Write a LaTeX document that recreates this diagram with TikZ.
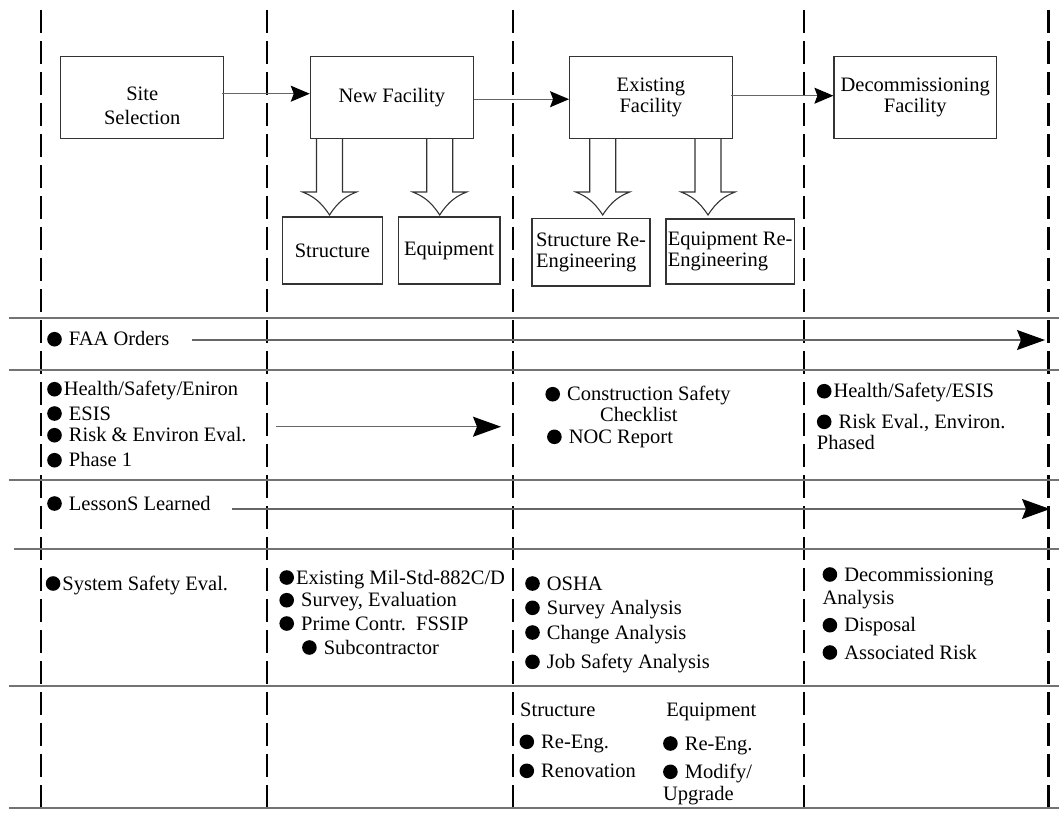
\documentclass[tikz,border=0pt]{standalone}
\usepackage{fontspec}
\setmainfont{Liberation Serif}
\usetikzlibrary{arrows.meta}

\newcommand{\bigtext}{\fontsize{20.5}{21}\selectfont}
% round list marker, sits on the baseline
\newcommand{\bul}{\tikz[baseline=0pt]\fill[black] (7.3pt,6.5pt) circle (7.3pt);\hspace{2pt}}
% hollow down arrow under a facility box, #1 = centre x
\newcommand{\hollowarrow}[1]{%
  \draw[black!80, line width=1.1pt] (#1-13,139) -- (#1-13,192) -- (#1-27,192)
    .. controls (#1-17,196) and (#1-9,201) .. (#1,215)
    .. controls (#1+9,201) and (#1+17,196) .. (#1+27,192)
    -- (#1+13,192) -- (#1+13,139);}

\tikzset{
  box/.style={draw=black!80, line width=1.1pt, inner sep=1pt, font=\bigtext},
  item/.style={anchor=base west, inner sep=0pt, text height=13pt, text depth=3pt, font=\bigtext},
  lane/.style={black, line width=2.2pt, dash pattern=on 23.3pt off 7.7pt},
  rowline/.style={black!55, line width=1.6pt},
  flow/.style={black!60, line width=1.2pt, -{Stealth[length=19pt, width=16pt, inset=3pt, color=black]}},
  longflow/.style={black!60, line width=1.2pt, -{Stealth[length=28pt, width=20pt, inset=4pt, color=black]}},
}

\begin{document}
\begin{tikzpicture}[x=1pt, y=-1pt]
    \useasboundingbox (0,0) rectangle (1059,815);

    % lanes and rows
    \foreach \x in {40.9, 266.7, 512.8, 804.2, 1048.5}
        \draw[lane] (\x,10) -- (\x,815);
    \foreach \x/\y in {9/318, 9/370, 9/480, 14/549, 9/686, 9/808}
        \draw[rowline] (\x,\y) -- (1059,\y);

    % facility boxes
    \node[box, minimum width=162.6, minimum height=82] (site) at (142.2,97.7) {};
    \node[inner sep=0pt, font=\bigtext, align=center] (sitetext) at ([yshift=-8pt]site.center) {Site\\[3pt]Selection};
    \node[box, minimum width=163, minimum height=82] (newfac) at (391.8,97.7) {New Facility\hspace{10pt}};
    \node[box, minimum width=162.6, minimum height=82, align=center] (exfac) at (650.9,97.7) {Existing\\Facility};
    \node[box, minimum width=162.5, minimum height=82, align=center] (decom) at (915.2,97.7) {Decommissioning\\Facility};

    \node[box, minimum width=100, minimum height=67] (struct) at (332.4,250.5) {Structure};
    \node[box, minimum width=101.8, minimum height=67] (equip) at (449.1,250.5) {Equipment};
    \node[box, minimum width=118, minimum height=67.3, align=left] (structre) at (591,252.3) {Structure Re-\\Engineering};
    \node[box, minimum width=128.4, minimum height=65, align=left] (equipre) at (730.2,251.5) {Equipment Re-\\Engineering};

    \draw[flow] ([xshift=-2pt, yshift=4pt]site.east) -- ([yshift=4pt]newfac.west);
    \draw[flow] ([yshift=-1.5pt]newfac.east) -- ([yshift=-1.5pt]exfac.west);
    \draw[flow] ([xshift=-2pt, yshift=2pt]exfac.east) -- ([yshift=2pt]decom.west);

    \hollowarrow{329.5}
    \hollowarrow{439.7}
    \hollowarrow{602.7}
    \hollowarrow{708}

    % FAA row
    \node[item] (faa) at (47,345.7) {\bul{} FAA Orders};
    \coordinate (faastart) at (191.7,340);
    \coordinate (faaend) at (1045,340);
    \draw[longflow] (faastart) -- (faaend);

    % health / safety row
    \node[item] (hse) at (47,395.7) {\bul{}Health/Safety/Eniron};
    \node[item] (esis) at (47,420) {\bul{} ESIS};
    \node[item] (riskenv) at (47,441.7) {\bul{} Risk \& Environ Eval.};
    \node[item] (phase) at (47,466.7) {\bul{} Phase 1};
    \coordinate (hsestart) at (275.5,426.7);
    \coordinate (hseend) at (501,426.7);
    \draw[longflow] (hsestart) -- (hseend);

    \node[item] (csc) at (545.2,400.7) {\bul{} Construction Safety};
    \node[item] (cscb) at (600,421.7) {Checklist};
    \node[item] (noc) at (546.9,443.3) {\bul{} NOC Report};

    \node[item] (hsesis) at (816.7,397.7) {\bul{}Health/Safety/ESIS};
    \node[item] (riskeval) at (816.7,428.3) {\bul{} Risk Eval., Environ.};
    \node[item] (phased) at (816.7,449) {Phased};

    % lessons row
    \node[item] (lessons) at (47,510) {\bul{} LessonS Learned};
    \coordinate (lesstart) at (232.3,509);
    \coordinate (lesend) at (1050,509);
    \draw[longflow] (lesstart) -- (lesend);

    % system safety row
    \node[item] (sse) at (45.6,590) {\bul{}System Safety Eval.};

    \node[item] (milstd) at (279.2,584) {\bul{}Existing Mil-Std-882C/D};
    \node[item] (survey) at (279.2,606.7) {\bul{} Survey, Evaluation};
    \node[item] (prime) at (279.2,630) {\bul{} Prime Contr.\ \ FSSIP};
    \node[item] (subc) at (301.9,654) {\bul{} Subcontractor};

    \node[item] (osha) at (525,590) {\bul{} OSHA};
    \node[item] (surveyan) at (525,614.3) {\bul{} Survey Analysis};
    \node[item] (change) at (525,639) {\bul{} Change Analysis};
    \node[item] (jsa) at (525,668.3) {\bul{} Job Safety Analysis};

    \node[item] (decoman) at (822.4,581) {\bul{} Decommissioning};
    \node[item] (decomanb) at (822.4,604) {Analysis};
    \node[item] (disposal) at (822.4,631.7) {\bul{} Disposal};
    \node[item] (assocrisk) at (822.4,659) {\bul{} Associated Risk};

    % re-engineering row
    \node[item] (structhd) at (520,716.7) {Structure};
    \node[item] (equiphd) at (666.2,716.7) {Equipment};
    \node[item] (sreeng) at (519.3,748.3) {\bul{} Re-Eng.};
    \node[item] (renov) at (519.3,777.3) {\bul{} Renovation};
    \node[item] (ereeng) at (662.9,750) {\bul{} Re-Eng.};
    \node[item] (modify) at (662.9,778.3) {\bul{} Modify/};
    \node[item] (upgrade) at (662.9,800) {Upgrade};
\end{tikzpicture}
\end{document}
